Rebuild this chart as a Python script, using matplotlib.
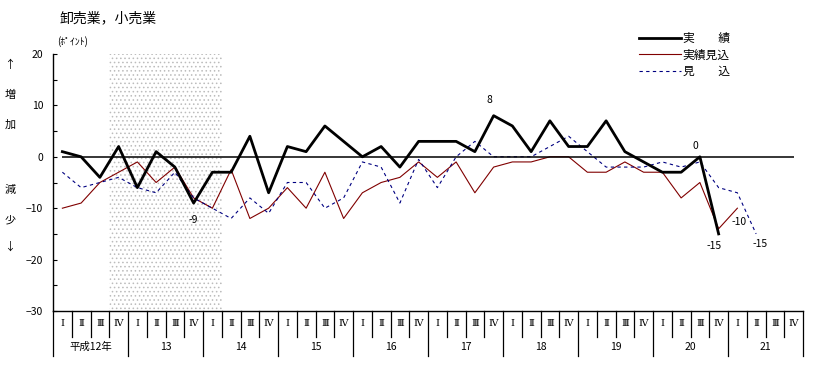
import numpy as np
import matplotlib
matplotlib.use('Agg')
import matplotlib.pyplot as plt

plt.rcParams['font.family'] = ['Noto Sans CJK JP', 'DejaVu Sans']
plt.rcParams['hatch.linewidth'] = 0.6

#%% データ（四半期, 平成12年I期～21年IV期）
quarters = ['Ⅰ', 'Ⅱ', 'Ⅲ', 'Ⅳ']
years = ['平成12年', '13', '14', '15', '16', '17', '18', '19', '20', '21']

# 実績
jisseki = [1, 0, -4, 2, -6, 1, -2, -9, -3, -3, 4, -7, 2, 1, 6, 3, 0, 2, -2, 3,
           3, 3, 1, 8, 6, 1, 7, 2, 2, 7, 1, -1, -3, -3, 0, -15]
# 実績見込
jisseki_mikomi = [-10, -9, -5, -3, -1, -5, -2, -8, -10, -2.5, -12, -10, -6, -10, -3, -12, -7, -5, -4, -1,
                  -4, -1, -7, -2, -1, -1, 0, 0, -3, -3, -1, -3, -3, -8, -5, -14, -10]
# 見込
mikomi = [-3, -6, -5, -4, -6, -7, -3, -8, -10, -12, -8, -11, -5, -5, -10, -8, -1, -2, -9, -0.5,
          -6, 0, 3, 0, 0, 0, 2, 4, 1, -2, -2, -2, -1, -2, -1, -6, -7, -15]

# 数値ラベル (系列, 四半期番号, ずらし量pt)
labels = [('jisseki', 7, (0, -12)), ('jisseki', 23, (-3, 11)), ('jisseki', 34, (-3.5, 8)),
          ('jisseki', 35, (-3, -9)), ('jisseki_mikomi', 36, (1, -10)), ('mikomi', 37, (2.5, -7.5))]

n = len(years) * 4
x = np.arange(n) + 0.5

def pad(v):
    return np.r_[v, [np.nan] * (n - len(v))]

series = {'jisseki': pad(jisseki), 'jisseki_mikomi': pad(jisseki_mikomi), 'mikomi': pad(mikomi)}

#%% 描画
fig = plt.figure(figsize=(8.13, 3.66), dpi=100)
ax = fig.add_axes([53 / 813, 55 / 366, 750 / 813, 257 / 366])
ax.set_xlim(0, n)
ax.set_ylim(-30, 20)

# 網掛け (平成12年IV期～14年I期)
ax.axvspan(3, 9, facecolor='white', edgecolor='#bcbcbc', hatch='....', lw=0, zorder=0)

ax.plot(x, series['jisseki_mikomi'], color='#800000', lw=0.8, zorder=2, label='実績見込')
ax.plot(x, series['mikomi'], color='#000080', lw=0.8, ls=(0, (3, 3)), zorder=2, label='見　　込')
ax.hlines(0, x[0], x[-1], color='black', lw=1.1, zorder=3)
ax.plot(x, series['jisseki'], color='black', lw=2.0, zorder=4, label='実　　績')

for name, i, off in labels:
    ax.annotate(str(int(series[name][i])), (x[i], series[name][i]), xytext=off,
                textcoords='offset points', ha='center', va='center', fontsize=7.5)

# 軸
for s in ['top', 'right']:
    ax.spines[s].set_visible(False)
ax.spines['left'].set_linewidth(1.0)
ax.spines['bottom'].set_linewidth(1.0)
ax.set_xticks([])
ax.set_yticks(range(-30, 21, 10))
ax.set_yticks(range(-25, 20, 10), minor=True)
ax.tick_params(axis='y', which='both', direction='in', length=3, width=0.8, labelsize=7.5, pad=7)

# 四半期・年の区切り
trans = ax.get_xaxis_transform()
for k in range(n + 1):
    low = -0.175 if k % 4 == 0 else -0.1
    ax.plot([k, k], [0, low], color='black', lw=0.9, transform=trans, clip_on=False)
for i in range(n):
    ax.text(x[i], -0.05, quarters[i % 4], transform=trans, ha='center', va='center', fontsize=7,
            family=['DejaVu Serif'])
for j, y in enumerate(years):
    ax.text(j * 4 + 2, -0.14, y, transform=trans, ha='center', va='center', fontsize=7.5)

# 凡例
h, l = ax.get_legend_handles_labels()
order = [2, 0, 1]
ax.legend([h[i] for i in order], [l[i] for i in order], loc='upper left', frameon=False,
          bbox_to_anchor=(633 / 813, 340 / 366), bbox_transform=fig.transFigure,
          handlelength=3.6, handletextpad=0.1, labelspacing=0.3, borderpad=0, fontsize=8.5)

# タイトル等
fig.text(60 / 813, 1 - 18 / 366, '卸売業，小売業', fontsize=10, va='center')
fig.text(57 / 813, 1 - 42 / 366, '(ﾎﾟｲﾝﾄ)', fontsize=7, va='center')
for t, yy in [('↑', 65), ('増', 95), ('加', 125), ('減', 190), ('少', 220), ('↓', 247)]:
    fig.text(10 / 813, 1 - yy / 366, t, fontsize=8, ha='center', va='center')

fig.savefig('out.png', dpi=100)
